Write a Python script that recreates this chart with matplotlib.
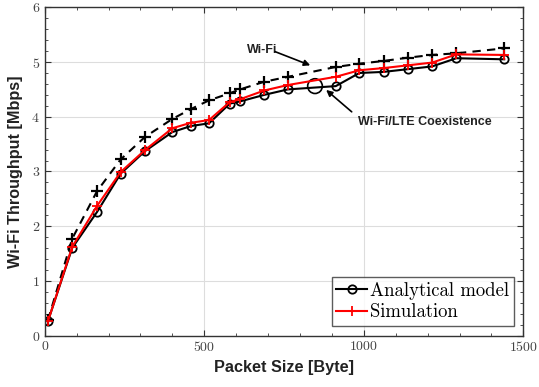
import matplotlib
matplotlib.use('Agg')
import matplotlib.pyplot as plt
from matplotlib.patches import Ellipse

# packet sizes (byte) and throughput (Mbps)
packet_size = [10, 86, 164, 238, 314, 400, 458, 515, 580, 612, 688, 762,
               912, 986, 1062, 1138, 1214, 1290, 1440]
analytical = [0.26, 1.60, 2.26, 2.96, 3.37, 3.72, 3.83, 3.88, 4.24, 4.28,
              4.40, 4.50, 4.56, 4.80, 4.82, 4.87, 4.92, 5.07, 5.05]
simulation = [0.26, 1.62, 2.37, 2.99, 3.39, 3.79, 3.89, 3.94, 4.27, 4.32,
              4.48, 4.58, 4.73, 4.85, 4.89, 4.94, 4.99, 5.14, 5.13]
wifi_only = [0.28, 1.77, 2.64, 3.22, 3.63, 3.96, 4.14, 4.30, 4.43, 4.50,
             4.64, 4.73, 4.91, 4.97, 5.02, 5.08, 5.13, 5.16, 5.25]

plt.rcParams['font.family'] = 'cmr10'
plt.rcParams['axes.formatter.use_mathtext'] = True
plt.rcParams['mathtext.fontset'] = 'cm'

fig = plt.figure(figsize=(5.39, 3.87), dpi=100)
ax = fig.add_axes([0.083, 0.133, 0.888, 0.848])

ax.plot(packet_size, wifi_only, color='black', linestyle=(0, (4, 3)), lw=1.5,
        marker='+', markersize=8, markeredgewidth=1.6)
ax.plot(packet_size, analytical, color='black', lw=1.5, marker='o', markersize=6,
        markerfacecolor='none', markeredgewidth=1.3, label='Analytical model')
ax.plot(packet_size, simulation, color='red', lw=1.5, marker='+', markersize=7,
        markeredgewidth=1.3, label='Simulation')

ax.set_xlim(0, 1500)
ax.set_ylim(0, 6)
ax.set_xticks([0, 500, 1000, 1500])
ax.set_yticks(range(7))
ax.set_xticks(range(0, 1501, 100), minor=True)
ax.set_yticks([i * 0.2 for i in range(31)], minor=True)
ax.grid(True, which='major', color='#dddddd', lw=0.8)
ax.set_axisbelow(True)
ax.tick_params(which='both', direction='in', top=True, right=True, labelsize=10,
               colors='#333333', labelcolor='#444444')
ax.tick_params(which='major', length=4)
ax.tick_params(which='minor', length=2.5)
for s in ax.spines.values():
    s.set_color('#333333')
    s.set_linewidth(1.0)

lab_font = dict(family='Liberation Sans', fontweight='bold', fontsize=11.7, color='#222222')
ax.set_xlabel('Packet Size [Byte]', **lab_font, labelpad=4)
ax.set_ylabel('Wi-Fi Throughput [Mbps]', **lab_font, labelpad=6)

# annotations
ann_font = dict(family='Liberation Sans', fontweight='bold', fontsize=9, color='#222222')
ax.text(728, 5.22, 'Wi-Fi', ha='right', va='center', **ann_font)
ax.annotate('', xy=(832, 4.94), xytext=(722, 5.19),
            arrowprops=dict(arrowstyle='-|>', color='black', lw=1.2, mutation_scale=9,
                            shrinkA=0, shrinkB=0))
ax.add_patch(Ellipse((847, 4.56), 46, 0.27, fill=False, edgecolor='black', lw=1.2))
ax.text(1192, 3.91, 'Wi-Fi/LTE Coexistence', ha='center', va='center', **ann_font)
ax.annotate('', xy=(882, 4.49), xytext=(962, 4.09),
            arrowprops=dict(arrowstyle='-|>', color='black', lw=1.2, mutation_scale=9,
                            shrinkA=0, shrinkB=0))

leg = ax.legend(loc='lower right', fontsize=13.5, frameon=True, fancybox=False,
                edgecolor='#333333', handlelength=1.65, handletextpad=0.15,
                borderpad=0.25, labelspacing=0.2, borderaxespad=0.5)
leg.get_frame().set_linewidth(1.0)

fig.savefig('out.png', dpi=100)
